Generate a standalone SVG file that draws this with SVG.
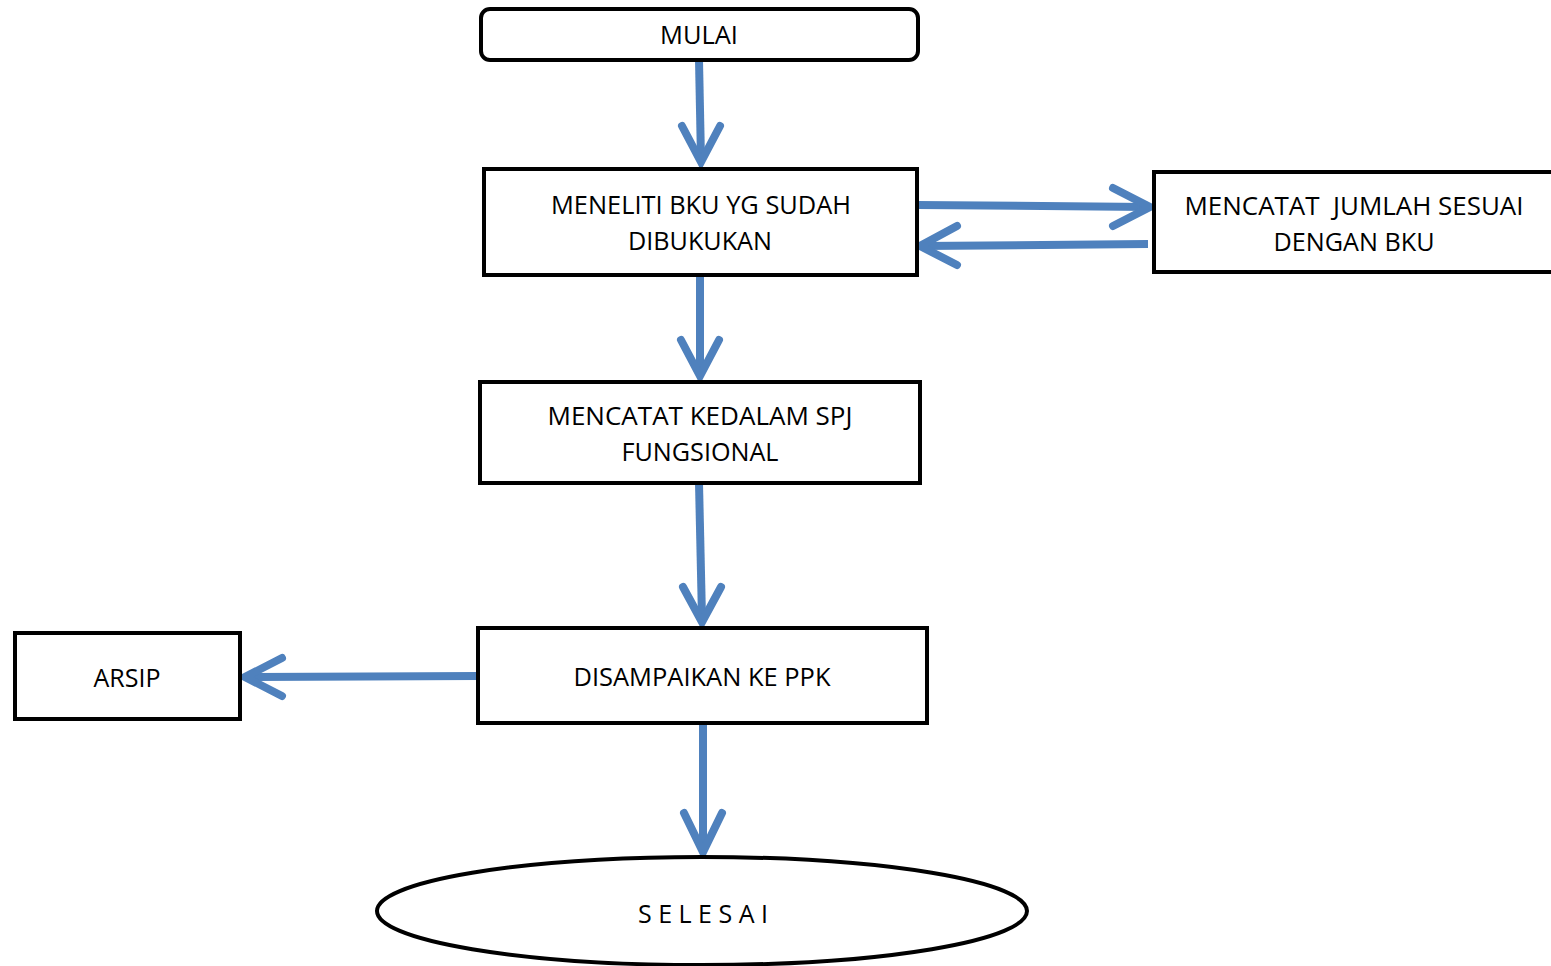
<svg xmlns="http://www.w3.org/2000/svg" width="1551" height="966" viewBox="0 0 1551 966">
<style>
.box{fill:#fff;stroke:#000;stroke-width:4}
.t{font-family:"Open Sans","Liberation Sans",sans-serif;font-size:25px;fill:#000;text-anchor:middle}
.c{fill:none;stroke:#4F81BD;stroke-width:8;stroke-linecap:round;stroke-linejoin:miter}
.s{fill:none;stroke:#4F81BD;stroke-width:8;stroke-linecap:butt}
</style>
<rect width="1551" height="966" fill="#fff"/>
<g id="connectors">
<line class="s" x1="699" y1="60" x2="701" y2="160"/>
<polyline class="c" points="682,126 701,162 720,126"/>
<line class="s" x1="917" y1="205" x2="1148" y2="207"/>
<polyline class="c" points="1113,188 1150,207 1113,226"/>
<line class="s" x1="1148" y1="244" x2="922" y2="246"/>
<polyline class="c" points="957,226 920,246 957,265"/>
<line class="s" x1="700" y1="275" x2="700" y2="374"/>
<polyline class="c" points="681,340 700,376 719,340"/>
<line class="s" x1="699" y1="483" x2="702" y2="618"/>
<polyline class="c" points="683,587 702,622 721,587"/>
<line class="s" x1="478" y1="676" x2="247" y2="677"/>
<polyline class="c" points="282,658 245,677 282,696"/>
<line class="s" x1="703" y1="723" x2="703" y2="849"/>
<polyline class="c" points="684,813 703,852 722,813"/>
</g>
<g id="mulai">
<rect class="box" x="481" y="9" width="437" height="51" rx="9"/>
<text class="t" x="699" y="44" textLength="78" lengthAdjust="spacingAndGlyphs">MULAI</text>
</g>
<g id="meneliti">
<rect class="box" x="484" y="169" width="433" height="106"/>
<text class="t" x="701" y="214" textLength="300" lengthAdjust="spacingAndGlyphs">MENELITI BKU YG SUDAH</text>
<text class="t" x="700" y="250" textLength="144" lengthAdjust="spacingAndGlyphs">DIBUKUKAN</text>
</g>
<g id="mencatat-jumlah">
<rect class="box" x="1154" y="172" width="402" height="100"/>
<text class="t" x="1354" y="215" textLength="339" lengthAdjust="spacingAndGlyphs" xml:space="preserve">MENCATAT  JUMLAH SESUAI</text>
<text class="t" x="1354" y="251" textLength="161" lengthAdjust="spacingAndGlyphs">DENGAN BKU</text>
</g>
<g id="mencatat-spj">
<rect class="box" x="480" y="382" width="440" height="101"/>
<text class="t" x="700" y="425" textLength="305" lengthAdjust="spacingAndGlyphs">MENCATAT KEDALAM SPJ</text>
<text class="t" x="700" y="461" textLength="157" lengthAdjust="spacingAndGlyphs">FUNGSIONAL</text>
</g>
<g id="disampaikan">
<rect class="box" x="478" y="628" width="449" height="95"/>
<text class="t" x="702" y="686" textLength="257" lengthAdjust="spacingAndGlyphs">DISAMPAIKAN KE PPK</text>
</g>
<g id="arsip">
<rect class="box" x="15" y="633" width="225" height="86"/>
<text class="t" x="127" y="687" textLength="67" lengthAdjust="spacingAndGlyphs">ARSIP</text>
</g>
<g id="selesai">
<ellipse class="box" cx="702" cy="911" rx="325" ry="54"/>
<text class="t" x="703" y="923" textLength="130" lengthAdjust="spacingAndGlyphs">S E L E S A I</text>
</g>
</svg>
